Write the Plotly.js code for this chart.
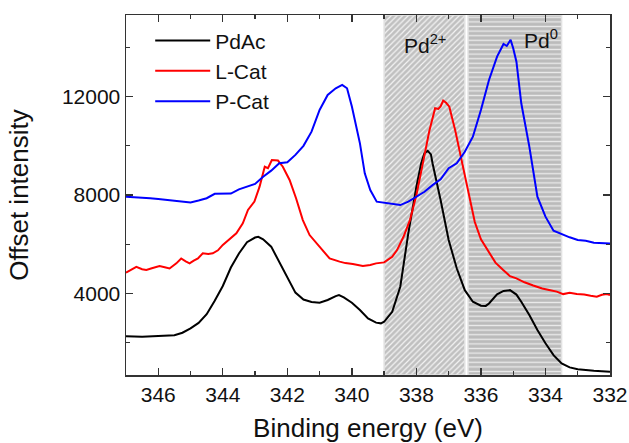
<!DOCTYPE html>
<html>
<head>
<meta charset="utf-8">
<script src="https://cdn.plot.ly/plotly-3.0.1.min.js"></script>
<style>html,body{margin:0;padding:0;background:#fff;}#chart{width:629px;height:443px;}</style>
</head>
<body>
<div id="chart"></div>
<script>
// Binding energy (eV) and offset intensity for each sample
const pdacEnergy = [347,346.5,346,345.5,345.25,345,344.75,344.5,344.25,344,343.75,343.5,343.25,343,342.9,342.75,342.5,342.25,342,341.75,341.5,341.25,341,340.75,340.5,340.4,340.25,340,339.75,339.5,339.25,339.1,339,338.75,338.5,338.25,338,337.85,337.75,337.65,337.55,337.5,337.25,337,336.75,336.5,336.25,336,335.85,335.75,335.5,335.3,335.1,334.9,334.75,334.5,334.25,334,333.75,333.5,333.25,333,332.5,332];
const pdacIntensity = [2260,2240,2270,2300,2400,2580,2800,3150,3700,4300,5050,5620,6080,6270,6300,6200,5900,5290,4640,4030,3750,3650,3620,3730,3890,3930,3840,3620,3320,2980,2810,2780,2845,3250,4270,6450,8340,9300,9700,9800,9650,9290,7800,6170,5020,4130,3660,3500,3490,3590,3960,4100,4130,3950,3660,3120,2510,1970,1490,1150,990,910,850,810];

const lcatEnergy = [347,346.85,346.68,346.5,346.37,346.2,345.96,345.8,345.65,345.44,345.29,345.15,345.03,344.9,344.77,344.62,344.45,344.31,344.15,344,343.8,343.58,343.38,343.22,343.02,342.86,342.7,342.6,342.48,342.29,342.14,341.93,341.73,341.52,341.31,341,340.69,340.38,340.2,339.97,339.66,339.43,339.25,339,338.75,338.6,338.4,338.2,338,337.78,337.6,337.42,337.32,337.25,337.17,337.08,336.98,336.8,336.65,336.49,336.34,336.19,336,335.77,335.55,335.31,335.1,334.9,334.65,334.38,334.1,333.85,333.65,333.45,333.25,333.03,332.8,332.6,332.41,332.25,332.1,332];
const lcatIntensity = [4840,4950,5080,4980,4950,5020,5110,5060,5010,5220,5420,5300,5220,5330,5420,5630,5600,5630,5750,5970,6200,6440,6850,7390,7730,8340,9150,9090,9420,9400,9150,8610,7870,6980,6370,5900,5420,5290,5230,5190,5110,5150,5220,5260,5490,5760,6300,6980,8000,9420,10600,11530,11500,11600,11840,11750,11590,10640,9700,8745,7700,6900,6200,5700,5250,4950,4700,4610,4450,4320,4200,4130,4070,3970,4020,3970,3950,3900,3860,3940,3970,3930];

const pcatEnergy = [347,346.75,346.5,346.25,346,345.75,345.5,345.25,345,344.75,344.5,344.25,344,343.75,343.5,343.25,343,342.75,342.5,342.25,342,341.75,341.5,341.25,341,340.75,340.5,340.3,340.15,340,339.75,339.6,339.5,339.43,339.23,339,338.75,338.5,338.25,338,337.75,337.5,337.25,337,336.75,336.5,336.25,336,335.75,335.5,335.3,335.2,335.08,335,334.9,334.75,334.5,334.25,334,333.75,333.5,333.25,333,332.75,332.5,332.25,332];
const pcatIntensity = [7930,7920,7900,7870,7840,7800,7770,7740,7700,7780,7870,8050,8040,8060,8230,8330,8450,8740,8990,9290,9330,9630,10000,10575,11460,12070,12340,12480,12340,11600,10100,8880,8480,8200,7730,7690,7660,7590,7730,7930,8130,8400,8640,9090,9290,9760,10370,11460,12680,13630,14140,14060,14310,13970,13420,11730,9970,7930,7120,6550,6410,6280,6170,6140,6060,6060,6030];

// Shaded oxidation-state regions
const regionNames = ['Pd<sup>2+</sup>', 'Pd<sup>0</sup>'];
const regionStart = [339, 336.4];
const regionEnd = [336.5, 333.5];
const regionLabelX = [337.72, 334.15];
const regionLabelY = [14150, 14330];
const regionPattern = ['/', '-'];
const regionBg = ['#c0c0c0', '#bbbbbb'];
const regionFg = ['#f4f4f4', '#e9e9e9'];

const seriesNames = ['PdAc', 'L-Cat', 'P-Cat'];
const xRange = [347, 332];
const yRange = [680, 15320];
const xTicks = [346, 344, 342, 340, 338, 336, 334, 332];
const yTicks = [4000, 8000, 12000];
const yMinorTicks = [2000, 6000, 10000, 14000];

const font = 'Liberation Sans, Arial, sans-serif';

const regionTraces = regionStart.map((s, i) => ({
  type: 'bar',
  x: [(s + regionEnd[i]) / 2],
  width: [Math.abs(s - regionEnd[i])],
  base: [yRange[0]],
  y: [yRange[1] - yRange[0]],
  marker: {
    color: regionBg[i],
    line: {color: '#e2e2e2', width: 1.5},
    pattern: {
      shape: regionPattern[i],
      bgcolor: regionBg[i],
      fgcolor: regionFg[i],
      fgopacity: 1,
      size: i === 0 ? 4 : 4.6,
      solidity: 0.3,
      fillmode: 'replace'
    }
  },
  showlegend: false,
  hoverinfo: 'skip'
}));

const traces = regionTraces.concat([
  {type: 'scatter', mode: 'lines', name: seriesNames[0], x: pdacEnergy, y: pdacIntensity, line: {color: '#000000', width: 2}},
  {type: 'scatter', mode: 'lines', name: seriesNames[1], x: lcatEnergy, y: lcatIntensity, line: {color: '#ff0000', width: 2}},
  {type: 'scatter', mode: 'lines', name: seriesNames[2], x: pcatEnergy, y: pcatIntensity, line: {color: '#0000ff', width: 2}}
]);

const axisCommon = {
  showline: true, linecolor: '#333', linewidth: 1.5, mirror: 'ticks',
  ticks: 'inside', ticklen: 7, tickwidth: 1.3, tickcolor: '#333',
  showgrid: false, zeroline: false,
  tickfont: {family: font, size: 21, color: '#111'}
};

const layout = {
  width: 629, height: 443,
  margin: {l: 126, r: 19, t: 15, b: 68},
  paper_bgcolor: '#fff', plot_bgcolor: '#fff',
  barmode: 'overlay', bargap: 0,
  showlegend: true,
  legend: {
    x: 0.05, y: 0.985, xanchor: 'left', yanchor: 'top',
    bgcolor: 'rgba(0,0,0,0)', borderwidth: 0,
    font: {family: font, size: 21, color: '#111'},
    itemwidth: 55, tracegroupgap: 0
  },
  xaxis: Object.assign({}, axisCommon, {
    range: xRange, tickvals: xTicks,
    minor: {dtick: 1, ticks: 'inside', ticklen: 4, tickcolor: '#333', tickwidth: 1.3},
    title: {text: 'Binding energy (eV)', font: {family: font, size: 26, color: '#111'}, standoff: 18}
  }),
  yaxis: Object.assign({}, axisCommon, {
    range: yRange, tickvals: yTicks, tickformat: 'd', exponentformat: 'none',
    minor: {tickvals: yMinorTicks, ticks: 'inside', ticklen: 4, tickcolor: '#333', tickwidth: 1.3},
    title: {text: 'Offset intensity', font: {family: font, size: 26, color: '#111'}, standoff: 26}
  }),
  annotations: regionNames.map((t, i) => ({
    text: t, x: regionLabelX[i], y: regionLabelY[i], xref: 'x', yref: 'y',
    showarrow: false, xanchor: 'center', yanchor: 'middle',
    font: {family: font, size: 21, color: '#111'}
  }))
};

Plotly.newPlot('chart', traces, layout, {displayModeBar: false, staticPlot: true});
</script>
</body>
</html>
